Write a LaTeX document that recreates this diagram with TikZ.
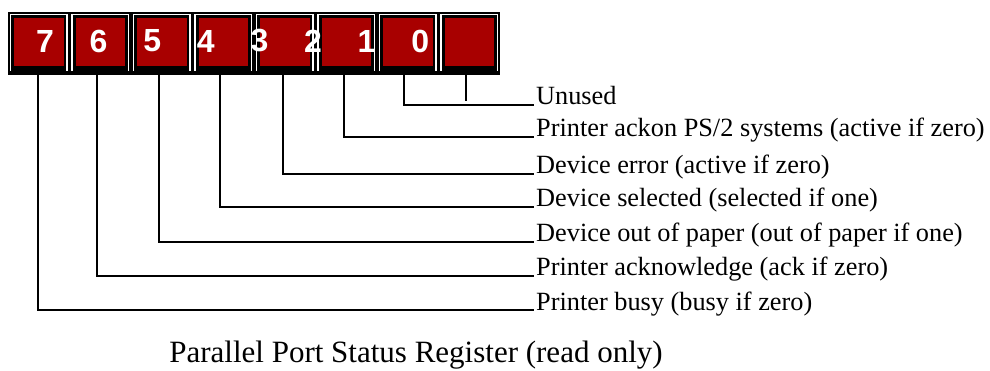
\documentclass[tikz,border=0pt]{standalone}
\usepackage{fontspec}
\setmainfont{Liberation Serif}
\newfontfamily\digitfont{Liberation Sans}
\definecolor{regred}{RGB}{168,0,0}
\tikzset{
  cell/.style={fill=black, minimum width=61.5pt, minimum height=63pt, inner sep=0pt, outer sep=0pt},
  bitnum/.style={text=white, font=\digitfont\bfseries\fontsize{32}{32}\selectfont, inner sep=0pt},
  lbl/.style={anchor=base west, inner sep=2pt, font=\fontsize{26.3}{28}\selectfont},
  wire/.style={line width=1.8pt, black}
}
\begin{document}
\begin{tikzpicture}[x=1pt,y=-1pt]
    \useasboundingbox (0,0) rectangle (990,371);
    % register cells
    \foreach \n [count=\i from 0] in {c7,c6,c5,c4,c3,c2,c1,cu} {
        \node[cell, anchor=north west] (\n) at (8+61.5*\i,12) {};
        \draw[white, line width=1.2pt] ([shift={(2.5,-4)}]\n.south west) |- ([shift={(-2.5,2.5)}]\n.north east) -- ([shift={(-2.5,-4)}]\n.south east);
        \fill[regred] ([shift={(6,6)}]\n.north west) rectangle ([shift={(-6,-9)}]\n.south east);
    }
    % bit numbers
    \foreach \d [count=\k from 0] in {7,6,5,4,3,2,1,0}
        \node[bitnum] (d\d) at (45+53.6*\k,41) {\d};
    % descriptions
    \node[lbl] (lu) at (534,105) {Unused};
    \node[lbl] (la) at (534,137) {Printer ackon PS/2 systems (active if zero)};
    \node[lbl] (le) at (534,174) {Device error (active if zero)};
    \node[lbl] (ls) at (534,207) {Device selected (selected if one)};
    \node[lbl] (lp) at (534,242) {Device out of paper (out of paper if one)};
    \node[lbl] (lk) at (534,276) {Printer acknowledge (ack if zero)};
    \node[lbl] (lb) at (534,310) {Printer busy (busy if zero)};
    % connectors
    \draw[wire] ([xshift=-1pt]c7.south) |- (lb.base west);
    \draw[wire] ([xshift=-3pt]c6.south) |- (lk.base west);
    \draw[wire] ([xshift=-3pt]c5.south) |- (lp.base west);
    \draw[wire] ([xshift=-3pt]c4.south) |- (ls.base west);
    \draw[wire] ([xshift=-2pt]c3.south) |- (le.base west);
    \draw[wire] ([xshift=-2pt]c2.south) |- (la.base west);
    \draw[wire] ([xshift=-4pt]c1.south) |- (lu.base west);
    \draw[wire] ([xshift=-3pt]cu.south) -- ++(0,26);
    % caption
    \node[anchor=base, font=\fontsize{31}{34}\selectfont] (cap) at (416,362) {Parallel Port Status Register (read only)};
\end{tikzpicture}
\end{document}
